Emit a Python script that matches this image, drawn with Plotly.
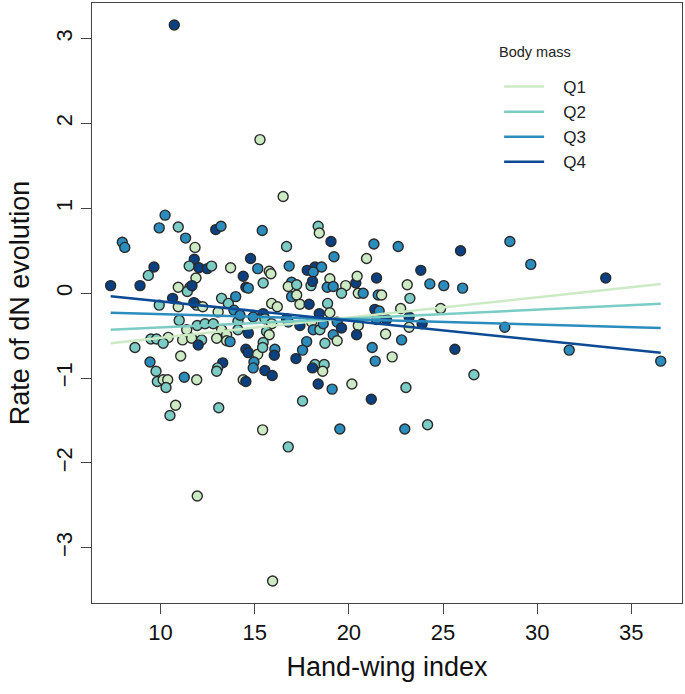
import plotly.graph_objects as go

# Hand-wing index (x), rate of dN evolution (y), body-mass quartile (1-4)
hwi = [10.24, 9.93, 10.94, 11.33, 11.83, 7.97, 8.10, 12.93, 13.21, 9.65, 9.35, 7.35, 8.91, 11.79, 11.52, 12.04, 12.48, 12.71, 13.72, 11.88,
       10.94, 11.56, 11.42, 11.67, 10.64, 9.93, 10.94, 11.92, 11.77, 12.24, 13.24, 13.60, 13.99,
       13.06, 10.99, 11.95, 12.36, 12.80, 14.11, 11.39, 13.24, 13.51, 14.11, 9.49, 9.79, 10.41, 10.14, 11.17, 11.65, 12.18, 12.00, 12.98, 13.51,
       13.69, 8.64, 11.07, 9.44, 9.76, 9.83, 10.14, 10.38, 10.29, 11.26, 11.92, 13.30, 13.03, 12.98, 10.80, 10.50, 13.09,
       16.51, 15.40, 18.37, 18.43, 19.05, 16.69, 21.33, 19.21, 20.94, 14.78, 15.16, 15.77, 15.86, 16.83, 17.79, 18.20, 18.55, 18.11, 14.39, 14.53,
       14.66, 15.45, 16.96, 16.78, 17.23, 17.99, 18.07, 18.99, 18.85, 19.17, 19.83, 20.37, 20.44, 21.47, 19.61, 20.50, 20.76, 21.56,
       16.96, 17.23, 15.90, 16.20, 17.40, 17.89, 18.87,
       18.99, 18.43, 13.90, 14.22, 14.92, 15.45, 15.54, 15.90, 16.69, 16.78, 17.40, 18.02, 18.11, 18.46, 18.64, 19.38, 19.61, 19.17, 20.50, 20.41,
       21.47, 14.66, 15.63, 15.77, 17.76, 18.73, 19.38, 15.45, 14.53, 14.66, 15.16, 15.42, 16.07, 16.04, 17.54, 17.19, 21.24, 21.40, 14.96, 14.92,
       15.54, 15.93, 18.20, 18.69, 18.07, 18.61, 14.39, 14.53, 18.37, 19.11, 20.16, 21.19, 17.54, 15.42, 19.52, 16.78,
       28.55, 22.62, 25.93, 23.82, 23.10, 24.30, 25.04, 26.04, 21.74, 23.24, 21.38, 21.61, 22.75, 24.87, 21.47, 22.00, 23.20, 23.20, 23.89, 28.28,
       21.95, 22.80, 25.63, 22.30, 26.64, 23.03, 22.97, 24.18, 29.66, 33.64, 31.70, 36.56, 10.73, 15.28, 11.95, 15.95]

rate = [0.92, 0.77, 0.78, 0.65, 0.54, 0.60, 0.54, 0.75, 0.79, 0.31, 0.21, 0.09, 0.09, 0.40, 0.32, 0.30, 0.29, 0.32, 0.30, 0.18,
        0.07, 0.07, 0.02, 0.09, -0.06, -0.14, -0.16, -0.14, -0.11, -0.16, -0.06, -0.12, -0.04,
        -0.22, -0.32, -0.38, -0.36, -0.36, -0.33, -0.43, -0.43, -0.49, -0.43, -0.54, -0.54, -0.52, -0.59, -0.55, -0.53, -0.55, -0.61, -0.53, -0.56,
        -0.57, -0.64, -0.74, -0.81, -0.92, -1.04, -1.02, -1.02, -1.11, -0.99, -1.02, -0.82, -0.88, -0.92, -1.32, -1.44, -1.35,
        1.14, 0.74, 0.79, 0.71, 0.61, 0.55, 0.58, 0.43, 0.41, 0.41, 0.29, 0.26, 0.23, 0.32, 0.27, 0.31, 0.31, 0.25, 0.20, 0.07,
        0.06, 0.12, 0.13, 0.08, 0.10, 0.09, 0.14, 0.17, 0.07, 0.08, 0.09, 0.12, 0.20, 0.18, 0.00, 0.00, 0.00, -0.02,
        -0.04, -0.02, -0.12, -0.16, -0.13, -0.13, -0.12,
        -0.23, -0.24, -0.20, -0.26, -0.28, -0.24, -0.30, -0.36, -0.30, -0.34, -0.38, -0.34, -0.43, -0.43, -0.36, -0.34, -0.41, -0.49, -0.38, -0.49,
        -0.24, -0.47, -0.45, -0.49, -0.57, -0.59, -0.56, -0.58, -0.66, -0.70, -0.72, -0.64, -0.66, -0.73, -0.67, -0.77, -0.64, -0.80, -0.81, -0.88,
        -0.91, -0.97, -0.84, -0.84, -0.88, -0.92, -1.02, -1.04, -1.07, -1.13, -1.07, -1.25, -1.27, -1.61, -1.60, -1.81,
        0.61, 0.55, 0.50, 0.27, 0.10, 0.11, 0.09, 0.06, -0.02, -0.06, -0.19, -0.21, -0.18, -0.18, -0.31, -0.31, -0.28, -0.40, -0.36, -0.40,
        -0.48, -0.55, -0.66, -0.75, -0.96, -1.11, -1.60, -1.55, 0.34, 0.18, -0.67, -0.80, 3.16, 1.81, -2.39, -3.39]

mass_q = [3, 3, 2, 3, 1, 3, 3, 4, 3, 4, 2, 4, 4, 4, 2, 4, 4, 2, 1, 1,
          1, 1, 2, 4, 4, 2, 1, 2, 4, 1, 2, 2, 3,
          1, 2, 2, 2, 2, 2, 1, 1, 1, 2, 2, 2, 1, 2, 1, 1, 2, 4, 1, 1,
          3, 2, 1, 3, 2, 2, 1, 1, 2, 3, 1, 4, 2, 2, 1, 2, 2,
          1, 3, 2, 1, 4, 2, 3, 3, 1, 4, 3, 1, 1, 3, 4, 4, 3, 3, 4, 4,
          3, 2, 3, 1, 2, 2, 4, 1, 3, 3, 1, 4, 1, 4, 2, 1, 3, 3,
          3, 1, 1, 1, 1, 4, 2,
          1, 4, 3, 3, 3, 4, 2, 1, 4, 3, 4, 1, 3, 2, 3, 3, 4, 3, 1, 4,
          3, 4, 2, 1, 3, 2, 1, 2, 4, 4, 1, 2, 3, 4, 3, 4, 3, 3, 3, 3,
          4, 4, 2, 2, 4, 1, 1, 4, 4, 3, 1, 4, 2, 1, 3, 2,
          3, 3, 4, 4, 1, 3, 3, 3, 1, 2, 4, 3, 1, 1, 3, 4, 4, 1, 4, 3,
          1, 3, 4, 1, 2, 2, 3, 2, 3, 4, 3, 3, 4, 1, 1, 1]

# Fitted lines per quartile: x span and y at both ends
quartiles = ["Q1", "Q2", "Q3", "Q4"]
fit_x = [7.35, 36.56]
fit_y_start = [-0.59, -0.43, -0.23, -0.035]
fit_y_end = [0.11, -0.125, -0.41, -0.70]

x_ticks = [10, 15, 20, 25, 30, 35]
y_ticks = [-3, -2, -1, 0, 1, 2, 3]

palette = {1: "#ccebc5", 2: "#7bccc4", 3: "#2b8cbe", 4: "#084081"}
line_palette = ["#ccebc5", "#7bccc4", "#2b8cbe", "#0c4a94"]

FONT = "Liberation Sans, Arial, Helvetica, sans-serif"
NB = "\u00a0\u00a0\u00a0"

fig = go.Figure()

fig.add_trace(go.Scatter(
    x=hwi, y=rate, mode="markers", showlegend=False,
    marker=dict(size=10, color=[palette[q] for q in mass_q],
                line=dict(color="#2a2a2a", width=1.4))))

for i, q in enumerate(quartiles):
    fig.add_trace(go.Scatter(
        x=fit_x, y=[fit_y_start[i], fit_y_end[i]], mode="lines", name=NB + q,
        line=dict(color=line_palette[i], width=2.5), hoverinfo="skip"))

fig.update_layout(
    width=685, height=694,
    margin=dict(l=92, r=3, t=3, b=91),
    paper_bgcolor="white", plot_bgcolor="white",
    font=dict(family=FONT, color="#111"),
    showlegend=True,
    legend=dict(
        x=0.69, y=0.89, xanchor="left", yanchor="top",
        bgcolor="rgba(0,0,0,0)",
        font=dict(size=17, family=FONT, color="#222"),
        itemwidth=40, tracegroupgap=0, traceorder="normal"),
    annotations=[dict(
        text="Body mass", x=0.686, y=0.918, xref="paper", yref="paper",
        xanchor="left", yanchor="middle", showarrow=False,
        font=dict(size=14.5, family=FONT, color="#222"))],
    xaxis=dict(
        range=[6.36, 37.69], tickvals=x_ticks, ticktext=[str(v) for v in x_ticks],
        showgrid=False, zeroline=False, showline=True, mirror=True, automargin=False,
        linecolor="#444", linewidth=1, ticks="outside", ticklen=10, tickcolor="#444",
        tickfont=dict(size=22, family=FONT, color="#111"),
        title=dict(text="Hand-wing index", font=dict(size=27, family=FONT, color="#111"), standoff=12)),
    yaxis=dict(
        range=[-3.65, 3.42], tickvals=y_ticks, ticktext=[("\u2212" + str(-v)) if v < 0 else str(v) for v in y_ticks],
        showgrid=False, zeroline=False, showline=True, mirror=True, automargin=False,
        linecolor="#444", linewidth=1, ticks="outside", ticklen=10, tickcolor="#444",
        tickangle=-90, tickfont=dict(size=22, family=FONT, color="#111"),
        title=dict(text="Rate of dN evolution", font=dict(size=27, family=FONT, color="#111"), standoff=14)),
)

fig.write_html("out.html", config={"displayModeBar": False},
               post_script="document.body.style.margin='0px';")
